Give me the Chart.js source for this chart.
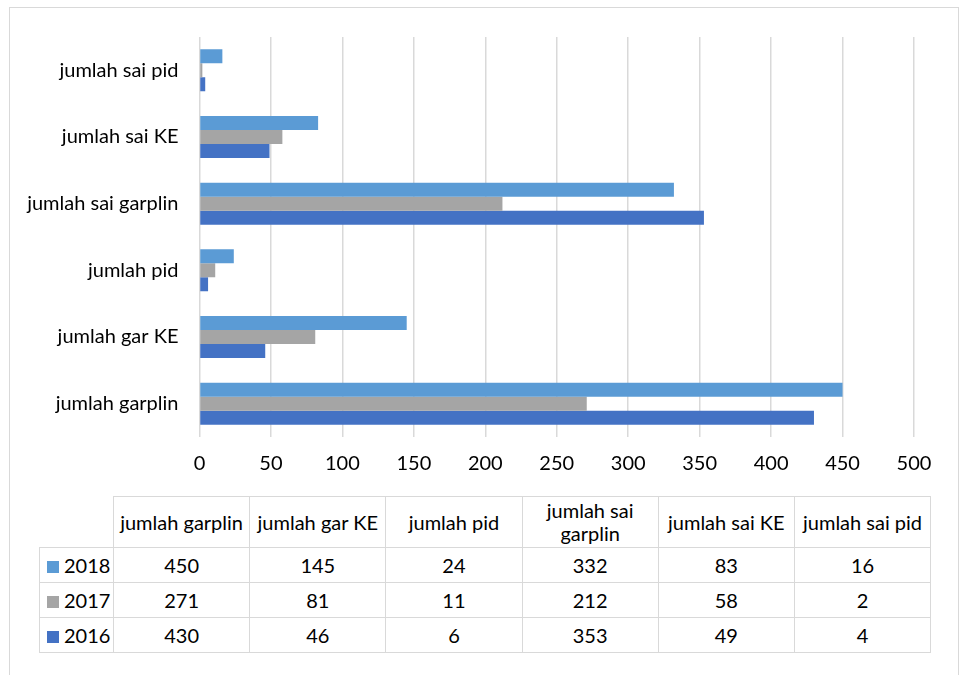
<!DOCTYPE html>
<html>
<head>
<meta charset="utf-8">
<script src="https://cdn.jsdelivr.net/npm/chart.js@4"></script>
<style>
  html, body { margin: 0; padding: 0; background: #fff; width: 961px; height: 675px; overflow: hidden; font-family: Lato, "Open Sans", sans-serif; }
  #frame { position: absolute; left: 9px; top: 7px; width: 950px; height: 700px; border: 1.5px solid #d9d9d9; box-sizing: border-box; }
  #chartBox { position: absolute; left: 0; top: 0; width: 961px; height: 480px; }
  table { position: absolute; left: 39px; top: 496px; border-collapse: collapse; table-layout: fixed; font-family: Lato, sans-serif; font-size: 20px; color: #000; }
  td { border: 1.5px solid #d9d9d9; text-align: center; padding: 0; }
  td.blank { border-top: none; border-left: none; }
  tr.head td { height: 50px; line-height: 23px; }
  tr.row td { height: 34px; }
  td.leg { text-align: left; padding-left: 7px; white-space: nowrap; }
  .sw { display: inline-block; width: 12px; height: 12px; margin-right: 5px; vertical-align: 0px; }
</style>
</head>
<body>
<div id="frame"></div>
<div id="chartBox"><canvas id="c" width="961" height="480"></canvas></div>
<table id="tbl"></table>
<script>
const categories = ["jumlah garplin", "jumlah gar KE", "jumlah pid", "jumlah sai garplin", "jumlah sai KE", "jumlah sai pid"];
const tableHeaders = ["jumlah garplin", "jumlah gar KE", "jumlah pid", "jumlah sai<br>garplin", "jumlah sai KE", "jumlah sai pid"];
const seriesNames = ["2018", "2017", "2016"];
const values2018 = [450, 145, 24, 332, 83, 16];
const values2017 = [271, 81, 11, 212, 58, 2];
const values2016 = [430, 46, 6, 353, 49, 4];
const xTicks = [0, 50, 100, 150, 200, 250, 300, 350, 400, 450, 500];
const colors = ["#5B9BD5", "#A5A5A5", "#4472C4"];
const seriesValues = [values2018, values2017, values2016];

// chart: categories shown top-to-bottom in reverse order
const chartLabels = categories.slice().reverse();
const datasets = seriesNames.map((name, i) => ({
  label: name,
  data: seriesValues[i].slice().reverse(),
  backgroundColor: colors[i],
  borderWidth: 0,
  barPercentage: 1.0,
  categoryPercentage: 0.63
}));

new Chart(document.getElementById('c'), {
  type: 'bar',
  data: { labels: chartLabels, datasets: datasets },
  options: {
    indexAxis: 'y',
    responsive: false,
    animation: false,
    devicePixelRatio: 1,
    layout: { padding: { top: 37, right: 47, left: 0, bottom: 0 } },
    plugins: { legend: { display: false }, tooltip: { enabled: false } },
    scales: {
      x: {
        min: 0, max: 500,
        afterBuildTicks: (s) => { s.ticks = xTicks.map(v => ({ value: v })); },
        afterFit: (s) => { s.height = 43; },
        grid: { color: '#d9d9d9', lineWidth: 1.5, drawTicks: false },
        border: { display: false },
        ticks: { padding: 15, color: '#000', font: { family: 'Lato', size: 20 } }
      },
      y: {
        afterFit: (s) => { s.width = 199.5; },
        grid: { display: false, drawTicks: false },
        border: { display: false },
        ticks: { padding: 21, color: '#000', font: { family: 'Lato', size: 20 } }
      }
    }
  }
});

// data table
const tbl = document.getElementById('tbl');
let html = '<colgroup><col style="width:74px">' + categories.map(() => '<col style="width:136.2px">').join('') + '</colgroup>';
html += '<tr class="head"><td class="blank"></td>' + tableHeaders.map(h => '<td>' + h + '</td>').join('') + '</tr>';
seriesNames.forEach((name, i) => {
  html += '<tr class="row"><td class="leg"><span class="sw" style="background:' + colors[i] + '"></span>' + name + '</td>' +
    seriesValues[i].map(v => '<td>' + v + '</td>').join('') + '</tr>';
});
tbl.innerHTML = html;
</script>
</body>
</html>
